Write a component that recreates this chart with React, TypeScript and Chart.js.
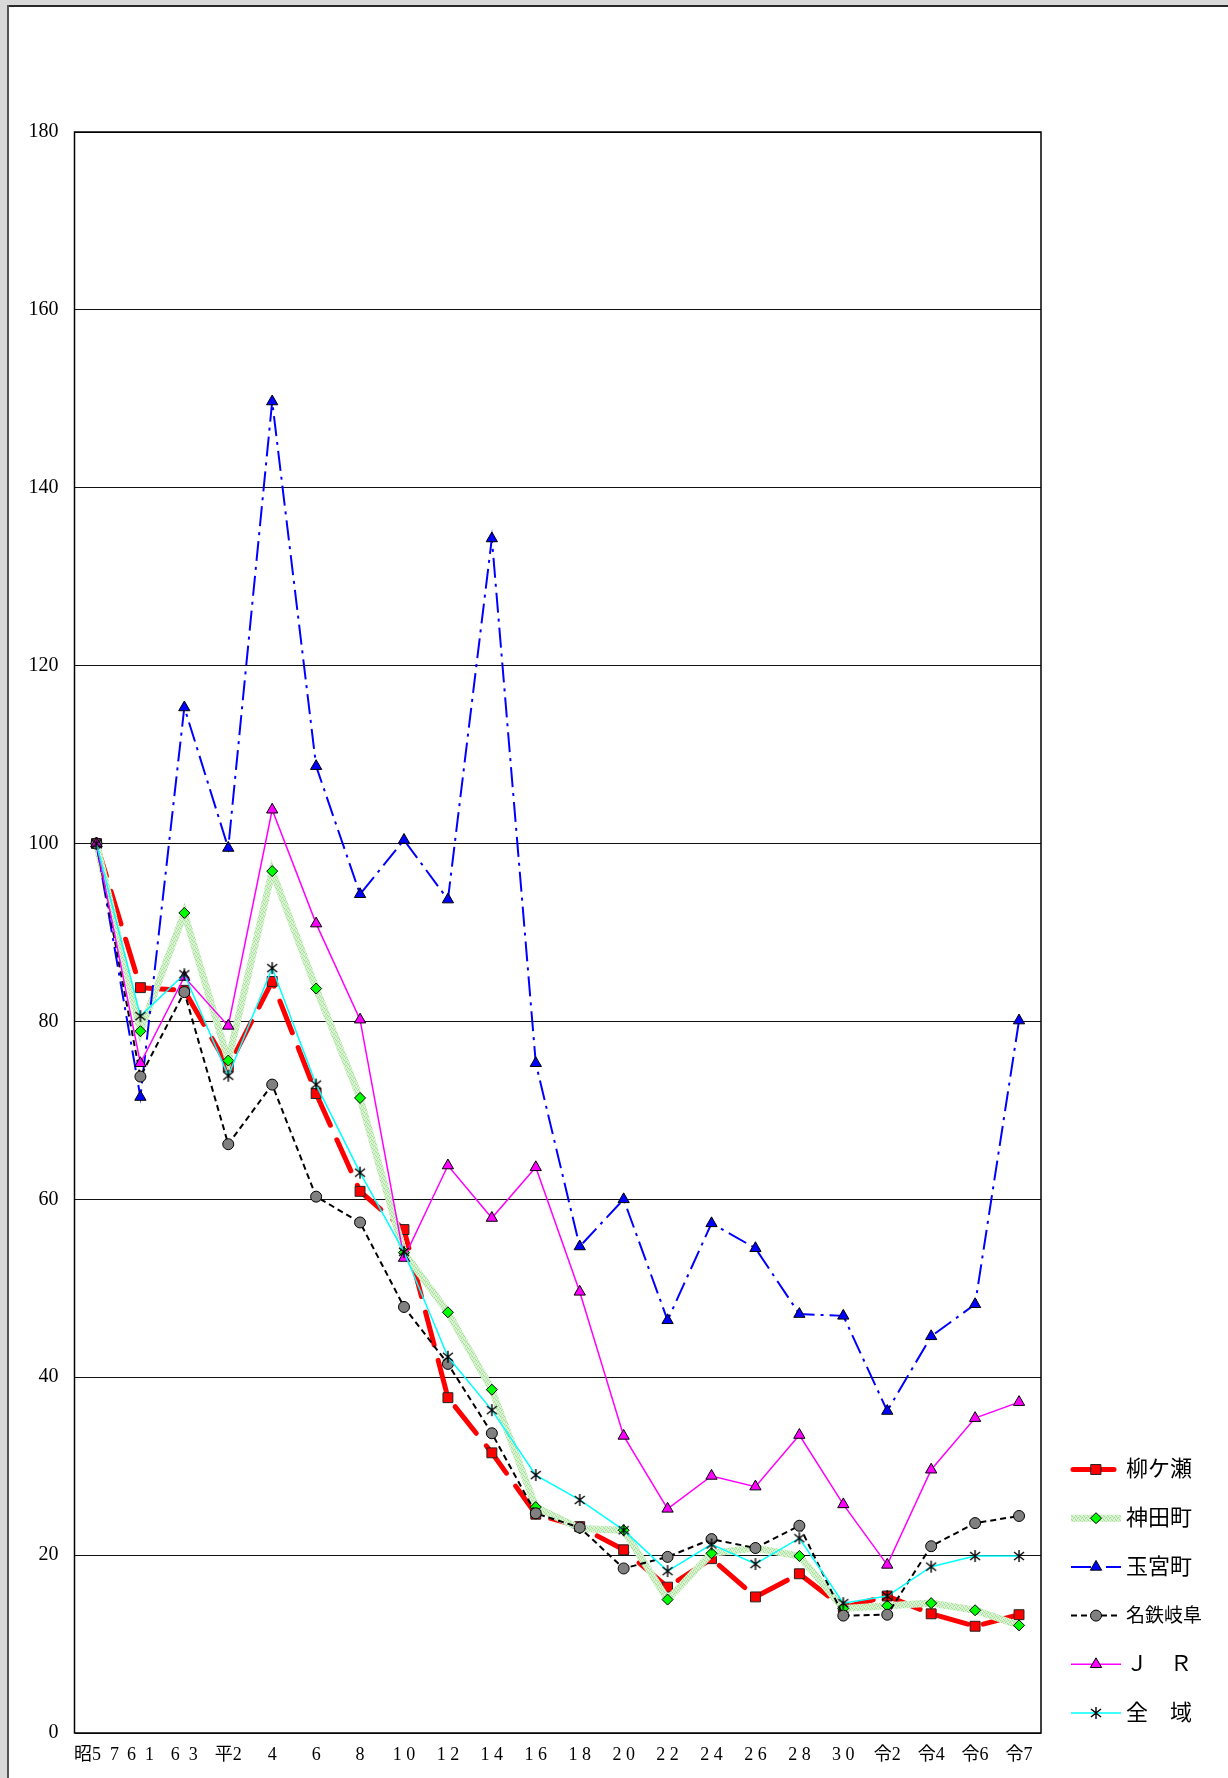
import React, { useEffect, useRef } from 'react';
import { Chart, registerables } from 'chart.js';

Chart.register(...registerables);

const categories = ['昭5\u20027', '6\u20021', '6\u20023', '平2', '4', '6', '8', '1 0', '1 2', '1 4', '1 6', '1 8', '2 0', '2 2', '2 4', '2 6', '2 8', '3 0', '令2', '令4', '令6', '令7'];

const seriesNames = ['柳ケ瀬', '神田町', '玉宮町', '名鉄岐阜', 'Ｊ　Ｒ', '全　域'];

const yanagase = [100, 83.8, 83.5, 74.9, 84.5, 71.9, 60.9, 56.6, 37.7, 31.5, 24.6, 23.2, 20.6, 16.4, 19.6, 15.3, 17.9, 14.1, 15.4, 13.4, 12.0, 13.3];
const kandamachi = [100, 78.9, 92.2, 75.6, 96.9, 83.7, 71.4, 54.0, 47.3, 38.6, 25.4, 23.0, 22.8, 15.0, 20.2, 20.8, 19.9, 14.0, 14.3, 14.6, 13.8, 12.1];
const tamamiyacho = [100, 71.5, 115.3, 99.5, 149.7, 108.7, 94.3, 100.4, 93.7, 134.3, 75.3, 54.7, 60.0, 46.4, 57.3, 54.5, 47.1, 46.9, 36.2, 44.6, 48.2, 80.1];
const meitetsu = [100, 73.8, 83.3, 66.2, 72.9, 60.3, 57.4, 47.9, 41.5, 33.7, 24.7, 23.1, 18.5, 19.8, 21.8, 20.8, 23.3, 13.2, 13.3, 21.0, 23.6, 24.4];
const jr = [100, 75.3, 85.0, 79.5, 103.8, 91.0, 80.2, 53.4, 63.8, 57.9, 63.6, 49.6, 33.4, 25.2, 28.9, 27.7, 33.5, 25.7, 18.9, 29.6, 35.4, 37.2];
const zeniki = [100, 80.6, 85.3, 73.9, 86.0, 72.9, 63.0, 54.1, 42.3, 36.3, 29.0, 26.2, 22.8, 18.2, 21.2, 19.0, 21.9, 14.6, 15.4, 18.7, 19.9, 19.9];

const yMin = 0;
const yMax = 180;
const yStep = 20;

const SERIF = "'Liberation Serif', 'Times New Roman', 'Noto Sans CJK JP', serif";

function makeGreenPattern(ctx: CanvasRenderingContext2D): CanvasPattern | string {
  const c = document.createElement('canvas');
  c.width = 4;
  c.height = 4;
  const g = c.getContext('2d');
  if (!g) return '#c4f0b8';
  g.fillStyle = '#cdf6c2';
  g.fillRect(0, 0, 4, 4);
  g.fillStyle = '#b0cfac';
  g.fillRect(0, 0, 1, 1);
  g.fillRect(2, 1, 1, 1);
  g.fillRect(1, 2, 1, 1);
  g.fillRect(3, 3, 1, 1);
  g.fillStyle = '#e6fae0';
  g.fillRect(2, 3, 1, 1);
  g.fillRect(0, 2, 1, 1);
  const p = ctx.createPattern(c, 'repeat');
  return p || '#c4f0b8';
}

function makeAsterisk(): HTMLCanvasElement {
  const c = document.createElement('canvas');
  c.width = 14;
  c.height = 14;
  const g = c.getContext('2d');
  if (g) {
    g.strokeStyle = '#000';
    g.lineWidth = 1.4;
    g.beginPath();
    g.moveTo(2, 3);
    g.lineTo(12, 11);
    g.moveTo(12, 3);
    g.lineTo(2, 11);
    g.moveTo(7, 1);
    g.lineTo(7, 13);
    g.stroke();
  }
  return c;
}

function drawMarker(ctx: CanvasRenderingContext2D, style: any, x: number, y: number, r: number, fill: string, stroke: string) {
  ctx.save();
  if (typeof style !== 'string') {
    ctx.drawImage(style, x - style.width / 2, y - style.height / 2);
    ctx.restore();
    return;
  }
  ctx.setLineDash([]);
  ctx.fillStyle = fill;
  ctx.strokeStyle = stroke;
  ctx.lineWidth = 1;
  ctx.beginPath();
  if (style === 'rect') {
    const s = Math.SQRT1_2 * r;
    ctx.rect(x - s, y - s, 2 * s, 2 * s);
  } else if (style === 'rectRot') {
    ctx.moveTo(x, y - r);
    ctx.lineTo(x + r, y);
    ctx.lineTo(x, y + r);
    ctx.lineTo(x - r, y);
    ctx.closePath();
  } else if (style === 'triangle') {
    let a = 0;
    ctx.moveTo(x + Math.sin(a) * r, y - Math.cos(a) * r);
    a += (2 * Math.PI) / 3;
    ctx.lineTo(x + Math.sin(a) * r, y - Math.cos(a) * r);
    a += (2 * Math.PI) / 3;
    ctx.lineTo(x + Math.sin(a) * r, y - Math.cos(a) * r);
    ctx.closePath();
  } else {
    ctx.arc(x, y, r, 0, Math.PI * 2);
  }
  ctx.fill();
  ctx.stroke();
  ctx.restore();
}

export default function App() {
  const canvasRef = useRef<HTMLCanvasElement>(null);

  useEffect(() => {
    document.body.style.margin = '0';
    const canvas = canvasRef.current;
    if (!canvas) return;
    const ctx = canvas.getContext('2d');
    if (!ctx) return;

    const greenPattern = makeGreenPattern(ctx);
    const asterisk = makeAsterisk();

    const frameRect = {
      id: 'frameRect',
      beforeDatasetsDraw(chart: any) {
        const { ctx: c, chartArea: a } = chart;
        c.save();
        c.strokeStyle = '#000';
        c.lineWidth = 1.5;
        c.strokeRect(a.left, a.top, a.right - a.left, a.bottom - a.top);
        c.restore();
      },
    };

    const customLegend = {
      id: 'customLegend',
      afterDraw(chart: any) {
        const { ctx: c, chartArea: a } = chart;
        const ds = chart.data.datasets;
        const n = ds.length;
        const spacing = 48.7;
        const x0 = a.right + 30;
        const xm = x0 + 25;
        c.save();
        for (let i = 0; i < n; i++) {
          const d: any = ds[i];
          const y = a.bottom - 20 - (n - 1 - i) * spacing;
          c.beginPath();
          c.lineCap = i === 0 ? 'round' : 'butt';
          c.setLineDash(i === 0 ? [] : d.borderDash || []);
          c.strokeStyle = d.borderColor;
          c.lineWidth = d.borderWidth;
          const xe = i === 0 ? x0 + 43 : x0 + 50;
          c.moveTo(x0 + (i === 0 ? 2 : 0), y);
          c.lineTo(xe, y);
          c.stroke();
          drawMarker(c, d.pointStyle, xm, y, d.pointRadius, d.pointBackgroundColor, d.pointBorderColor);
          c.setLineDash([]);
          c.fillStyle = '#000';
          c.textAlign = 'left';
          c.textBaseline = 'middle';
          c.font = (i === 3 ? '19px ' : '22px ') + SERIF;
          c.fillText(d.label, x0 + 55, y + 1);
        }
        c.restore();
      },
    };

    const chart = new Chart(canvas, {
      type: 'line',
      data: {
        labels: categories,
        datasets: [
          {
            label: seriesNames[0],
            data: yanagase,
            borderColor: '#ff0000',
            borderWidth: 5,
            borderDash: [34, 16],
            borderCapStyle: 'round',
            borderJoinStyle: 'round',
            pointStyle: 'rect',
            pointRadius: 7,
            pointBackgroundColor: '#ff0000',
            pointBorderColor: '#222',
            pointBorderWidth: 1,
            order: 6,
          },
          {
            label: seriesNames[1],
            data: kandamachi,
            borderColor: greenPattern as any,
            borderWidth: 7,
            pointStyle: 'rectRot',
            pointRadius: 5.5,
            pointBackgroundColor: '#00ff00',
            pointBorderColor: '#000',
            pointBorderWidth: 1,
            order: 5,
          },
          {
            label: seriesNames[2],
            data: tamamiyacho,
            borderColor: '#0000ff',
            borderWidth: 2,
            borderDash: [20, 6, 3, 6],
            pointStyle: 'triangle',
            pointRadius: 6.5,
            pointBackgroundColor: '#0000ff',
            pointBorderColor: '#000',
            pointBorderWidth: 1,
            order: 4,
          },
          {
            label: seriesNames[3],
            data: meitetsu,
            borderColor: '#000000',
            borderWidth: 2,
            borderDash: [6, 4],
            pointStyle: 'circle',
            pointRadius: 5.5,
            pointBackgroundColor: '#808080',
            pointBorderColor: '#000',
            pointBorderWidth: 1,
            order: 3,
          },
          {
            label: seriesNames[4],
            data: jr,
            borderColor: '#ff00ff',
            borderWidth: 1.5,
            pointStyle: 'triangle',
            pointRadius: 6.5,
            pointBackgroundColor: '#ff00ff',
            pointBorderColor: '#000',
            pointBorderWidth: 1,
            order: 2,
          },
          {
            label: seriesNames[5],
            data: zeniki,
            borderColor: '#00ffff',
            borderWidth: 1.5,
            pointStyle: asterisk as any,
            pointRadius: 7,
            pointBackgroundColor: '#000',
            pointBorderColor: '#000',
            order: 1,
          },
        ] as any,
      },
      options: {
        animation: false,
        responsive: true,
        maintainAspectRatio: false,
        events: [],
        layout: { padding: { top: 132, right: 187, bottom: 0, left: 0 } },
        plugins: {
          legend: { display: false },
          tooltip: { enabled: false },
          title: { display: false },
        },
        elements: { line: { tension: 0 } },
        scales: {
          x: {
            type: 'category',
            offset: true,
            grid: { display: false, drawTicks: false },
            border: { display: false },
            ticks: {
              color: '#000',
              font: { family: SERIF, size: 18 },
              padding: 11,
              maxRotation: 0,
              minRotation: 0,
              autoSkip: false,
            },
            afterFit(scale: any) {
              scale.height = 45;
            },
          },
          y: {
            type: 'linear',
            min: yMin,
            max: yMax,
            ticks: {
              stepSize: yStep,
              color: '#000',
              font: { family: SERIF, size: 20 },
              padding: 16,
            },
            grid: { color: '#111', lineWidth: 1, drawTicks: false },
            border: { display: false },
            afterFit(scale: any) {
              scale.width = 74.5;
            },
          },
        },
      },
      plugins: [frameRect, customLegend],
    } as any);

    return () => chart.destroy();
  }, []);

  return (
    <div style={{ position: 'relative', width: 1228, height: 1778, background: '#ffffff', overflow: 'hidden' }}>
      <div style={{ position: 'absolute', left: 0, top: 0, width: 1228, height: 5, background: '#d9d9d9' }} />
      <div style={{ position: 'absolute', left: 0, top: 5, width: 1228, height: 2, background: '#2a2a2a' }} />
      <div style={{ position: 'absolute', left: 0, top: 0, width: 7, height: 1778, background: '#d9d9d9' }} />
      <div style={{ position: 'absolute', left: 7, top: 5, width: 2, height: 1773, background: '#555555' }} />
      <div style={{ position: 'absolute', left: 0, top: 0, width: 1228, height: 1778 }}>
        <canvas ref={canvasRef} />
      </div>
    </div>
  );
}
